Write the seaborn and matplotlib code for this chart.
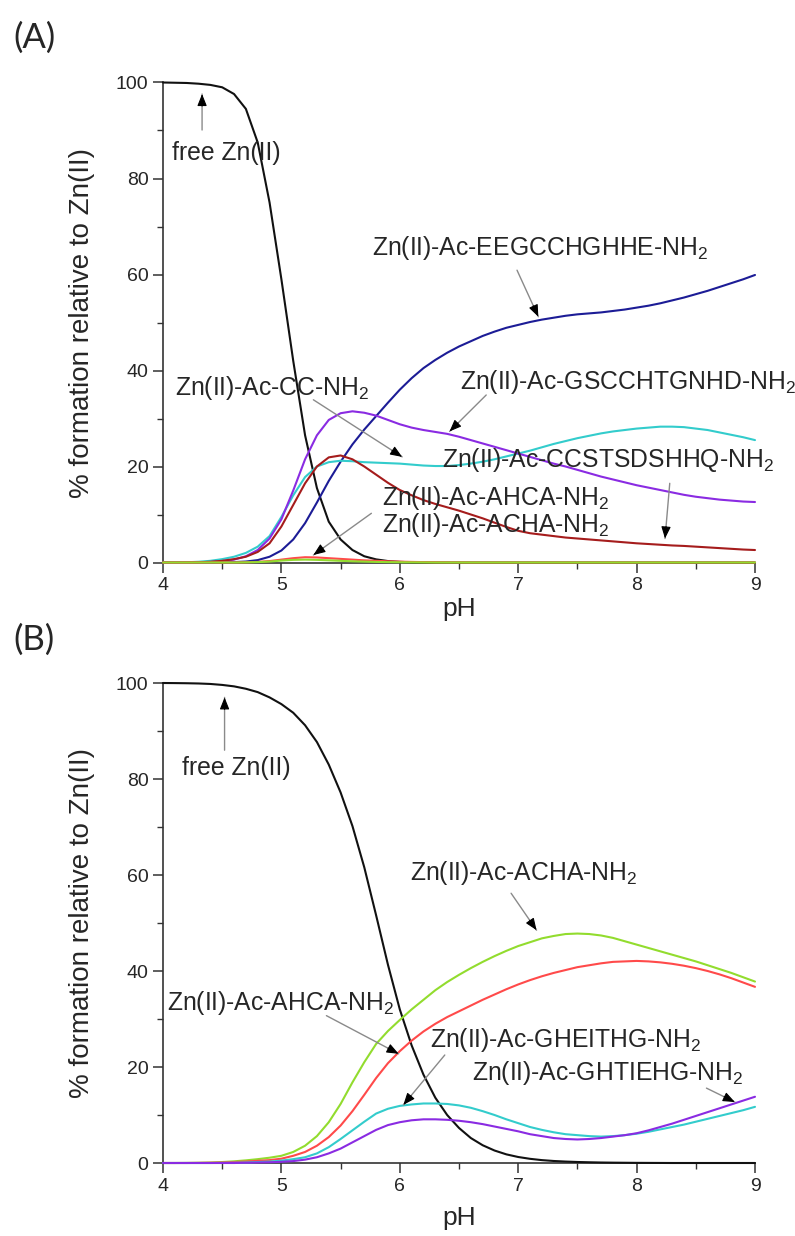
import numpy as np
import pandas as pd
import matplotlib
matplotlib.use("Agg")
import matplotlib.pyplot as plt
import seaborn as sns

# ---------------- data ----------------
pH = [4.0, 4.1, 4.2, 4.3, 4.4, 4.5, 4.6, 4.7, 4.8, 4.9,
      5.0, 5.1, 5.2, 5.3, 5.4, 5.5, 5.6, 5.7, 5.8, 5.9,
      6.0, 6.1, 6.2, 6.3, 6.4, 6.5, 6.6, 6.7, 6.8, 6.9,
      7.0, 7.1, 7.2, 7.3, 7.4, 7.5, 7.6, 7.7, 7.8, 7.9,
      8.0, 8.1, 8.2, 8.3, 8.4, 8.5, 8.6, 8.7, 8.8, 8.9,
      9.0]

# Panel A
a_free = [100, 99.95, 99.9, 99.75, 99.5, 99.0, 97.6, 94.5, 87.5, 75,
          59, 42, 26.5, 15.5, 8.5, 4.8, 2.6, 1.3, 0.65, 0.3,
          0.13, 0.05, 0.02, 0, 0, 0, 0, 0, 0, 0,
          0, 0, 0, 0, 0, 0, 0, 0, 0, 0,
          0, 0, 0, 0, 0, 0, 0, 0, 0, 0,
          0]
a_eeg = [0, 0, 0, 0, 0.01, 0.03, 0.08, 0.2, 0.5, 1.2,
         2.5, 4.8, 8.2, 12.5, 17, 21, 24.6, 27.7, 30.5, 33.3,
         36, 38.4, 40.5, 42.2, 43.7, 45.0, 46.1, 47.2, 48.1, 48.9,
         49.5, 50.1, 50.6, 51.0, 51.4, 51.7, 51.9, 52.1, 52.4, 52.7,
         53.1, 53.5, 54.0, 54.6, 55.2, 55.9, 56.6, 57.4, 58.2, 59.0,
         59.9]
a_cc = [0, 0.02, 0.05, 0.15, 0.35, 0.7, 1.2, 2.0, 3.3, 5.5,
        9.5, 14, 17.8, 20.0, 20.9, 21.2, 21.1, 20.9, 20.8, 20.7,
        20.6, 20.4, 20.2, 20.1, 20.1, 20.3, 20.6, 21.0, 21.5, 22.1,
        22.7, 23.3, 24.0, 24.7, 25.3, 25.9, 26.4, 26.9, 27.3, 27.6,
        27.9, 28.1, 28.3, 28.3, 28.2, 27.9, 27.6, 27.1, 26.6, 26.1,
        25.5]
a_gscc = [0, 0, 0.02, 0.05, 0.1, 0.3, 0.6, 1.3, 2.6, 5,
          9, 15, 21.5, 26.5, 29.7, 31.1, 31.5, 31.2, 30.6, 29.7,
          28.8, 28.1, 27.6, 27.2, 26.8, 26.2, 25.5, 24.8, 24.1, 23.4,
          22.7, 22.0, 21.3, 20.6, 20.0, 19.3, 18.6, 17.9, 17.3, 16.7,
          16.1, 15.6, 15.1, 14.6, 14.1, 13.7, 13.4, 13.1, 12.9, 12.7,
          12.6]
a_ccst = [0, 0, 0.02, 0.05, 0.15, 0.35, 0.7, 1.2, 2.2, 4.0,
          7.5, 12, 16.5, 20.0, 21.9, 22.3, 21.5, 20.0, 18.3, 16.6,
          15.1, 14.0, 13.0, 12.2, 11.5, 10.8, 10.0, 9.2, 8.3, 7.4,
          6.6, 6.1, 5.8, 5.5, 5.2, 5.0, 4.8, 4.6, 4.4, 4.2,
          4.0, 3.85, 3.7, 3.55, 3.45, 3.3, 3.15, 3.0, 2.85, 2.7,
          2.6]
a_ahca = [0, 0, 0, 0, 0, 0, 0.02, 0.05, 0.12, 0.3,
          0.6, 0.9, 1.1, 1.05, 0.9, 0.75, 0.6, 0.45, 0.35, 0.25,
          0.18, 0.12, 0.08, 0.05, 0.03, 0.02, 0, 0, 0, 0,
          0, 0, 0, 0, 0, 0, 0, 0, 0, 0,
          0, 0, 0, 0, 0, 0, 0, 0, 0, 0,
          0]
a_acha = [0, 0, 0, 0, 0, 0, 0, 0.03, 0.08, 0.2,
          0.4, 0.55, 0.6, 0.55, 0.45, 0.35, 0.25, 0.18, 0.12, 0.08,
          0.05, 0.03, 0.02, 0, 0, 0, 0, 0, 0, 0,
          0, 0, 0, 0, 0, 0, 0, 0, 0, 0,
          0, 0, 0, 0, 0, 0, 0, 0, 0, 0,
          0]

# Panel B
b_free = [100, 99.98, 99.95, 99.9, 99.8, 99.6, 99.3, 98.8, 98.1, 97.0,
          95.6, 93.8, 91.2, 87.7, 83.0, 77.2, 70.2, 61.6, 51.6, 41.3,
          32.0, 24.5, 18.4, 13.6, 10.0, 7.3, 5.2, 3.7, 2.6, 1.8,
          1.25, 0.87, 0.6, 0.42, 0.3, 0.21, 0.15, 0.1, 0.07, 0.05,
          0.03, 0.02, 0.01, 0, 0, 0, 0, 0, 0, 0,
          0]
b_acha = [0, 0, 0.02, 0.05, 0.1, 0.2, 0.35, 0.55, 0.8, 1.1,
          1.5, 2.3, 3.6, 5.6, 8.5, 12.3, 16.8, 21.0, 24.8, 27.5,
          29.8, 32.0, 34.0, 36.0, 37.7, 39.2, 40.6, 41.9, 43.1, 44.2,
          45.2, 46.0, 46.8, 47.3, 47.7, 47.8, 47.7, 47.4, 46.9, 46.2,
          45.5, 44.8, 44.1, 43.4, 42.7, 42.0, 41.2, 40.4, 39.6, 38.7,
          37.8]
b_ahca = [0, 0, 0, 0.02, 0.05, 0.1, 0.2, 0.3, 0.45, 0.6,
          0.9, 1.5, 2.3, 3.6, 5.4, 7.8, 10.8, 14.2, 17.7, 20.8,
          23.3, 25.5, 27.4, 29.0, 30.4, 31.6, 32.8, 34.0, 35.1, 36.2,
          37.2, 38.1, 38.9, 39.6, 40.2, 40.8, 41.2, 41.6, 41.9, 42.0,
          42.1, 42.0, 41.8, 41.5, 41.1, 40.6, 40.0, 39.3, 38.5, 37.6,
          36.7]
b_gheithg = [0, 0, 0, 0, 0, 0.02, 0.05, 0.1, 0.2, 0.3,
             0.5, 0.8, 1.2, 2.0, 3.3, 5.0, 6.8, 8.6, 10.3, 11.3,
             11.9, 12.2, 12.4, 12.4, 12.3, 12.0, 11.5, 10.8, 10.0, 9.1,
             8.3, 7.5, 6.9, 6.4, 6.0, 5.8, 5.6, 5.5, 5.6, 5.8,
             6.1, 6.5, 7.0, 7.5, 8.0, 8.6, 9.2, 9.8, 10.4, 11.0,
             11.7]
b_ghtiehg = [0, 0, 0, 0, 0, 0, 0, 0.05, 0.1, 0.15,
             0.25, 0.4, 0.7, 1.2, 2.0, 3.0, 4.3, 5.6, 6.9, 7.9,
             8.5, 8.9, 9.1, 9.1, 9.0, 8.8, 8.5, 8.1, 7.6, 7.1,
             6.6, 6.0, 5.6, 5.2, 5.0, 4.9, 5.0, 5.2, 5.5, 5.8,
             6.2, 6.8, 7.5, 8.2, 9.0, 9.8, 10.6, 11.4, 12.2, 13.0,
             13.8]

x_ticks = [4, 5, 6, 7, 8, 9]
y_ticks = [0, 20, 40, 60, 80, 100]
ylabel_text = "% formation relative to Zn(II)"
xlabel_text = "pH"

# ---------------- style ----------------
sns.set_style("ticks")
plt.rcParams["font.family"] = ["Liberation Sans", "DejaVu Sans"]
plt.rcParams["mathtext.fontset"] = "custom"
plt.rcParams["mathtext.rm"] = "Liberation Sans"
plt.rcParams["mathtext.it"] = "Liberation Sans:italic"
plt.rcParams["mathtext.default"] = "regular"

C_BLACK = "#111111"
C_BLUE = "#1c1c96"
C_CYAN = "#33cccc"
C_PURPLE = "#8a2be2"
C_DRED = "#a51c1c"
C_RED = "#ff4a4a"
C_GREEN = "#92dc2e"
ANN_FS = 17.8

fig = plt.figure(figsize=(7.95, 12.36), dpi=100)
W, H = 795.0, 1236.0
axA = fig.add_axes([163 / W, 1 - 562.5 / H, 592 / W, 480 / H])
axB = fig.add_axes([163 / W, 1 - 1163 / H, 592 / W, 480 / H])


def draw_series(ax, series):
    for vals, col in series:
        df = pd.DataFrame({"pH": pH, "v": vals})
        sns.lineplot(data=df, x="pH", y="v", color=col, lw=1.5, ax=ax,
                     zorder=3, clip_on=False)


draw_series(axA, [(a_free, C_BLACK), (a_eeg, C_BLUE), (a_cc, C_CYAN),
                  (a_gscc, C_PURPLE), (a_ccst, C_DRED), (a_ahca, C_RED),
                  (a_acha, C_GREEN)])
draw_series(axB, [(b_free, C_BLACK), (b_acha, C_GREEN), (b_ahca, C_RED),
                  (b_gheithg, C_CYAN), (b_ghtiehg, C_PURPLE)])

for ax in (axA, axB):
    ax.set_xlim(4, 9)
    ax.set_ylim(0, 100)
    ax.set_xticks(x_ticks)
    ax.set_yticks(y_ticks)
    ax.set_xticks([4.5, 5.5, 6.5, 7.5, 8.5], minor=True)
    ax.set_yticks([10, 30, 50, 70, 90], minor=True)
    ax.tick_params(which="major", direction="out", length=7, width=1.1,
                   labelsize=14, pad=3.5, color="#333333")
    ax.tick_params(which="minor", direction="out", length=4, width=1.0,
                   color="#333333")
    for s in ("top", "right"):
        ax.spines[s].set_visible(False)
    for s in ("left", "bottom"):
        ax.spines[s].set_linewidth(1.2)
        ax.spines[s].set_color("#333333")
    ax.set_ylabel(ylabel_text, fontsize=20)
    ax.set_xlabel(xlabel_text, fontsize=19)
    ax.yaxis.set_label_coords(-0.115, 0.5)
    ax.set_facecolor("white")

axA.xaxis.set_label_coords(0.5, -0.072)
axB.xaxis.set_label_coords(0.5, -0.09)

fig.text(13 / W, 1 - 38 / H, "(A)", fontsize=25, family=["Lato", "DejaVu Sans"],
         ha="left", va="center")
fig.text(13 / W, 1 - 640 / H, "(B)", fontsize=25, family=["Lato", "DejaVu Sans"],
         ha="left", va="center")

fig.canvas.draw()


def arrow(ax, tail, head):
    ax.annotate("", xy=head, xytext=tail,
                arrowprops=dict(arrowstyle="-", color="#8a8a8a", lw=1.0,
                                shrinkA=0, shrinkB=0), zorder=5)
    p_h = ax.transData.transform(head)
    p_t = ax.transData.transform(tail)
    d = p_t - p_h
    d = d / np.hypot(*d)
    off = d * 12 * 72 / fig.dpi
    ax.annotate("", xy=head, xytext=(off[0], off[1]), textcoords="offset points",
                arrowprops=dict(arrowstyle="-|>,head_length=0.6,head_width=0.24",
                                color="black", lw=0.8, shrinkA=0, shrinkB=0,
                                mutation_scale=12), zorder=6)


def label(ax, x, y, s):
    ax.text(x, y, s, fontsize=ANN_FS, ha="left", va="center", zorder=7)


# Panel A annotations
label(axA, 4.076, 85.3, "free Zn(II)")
arrow(axA, (4.33, 90.1), (4.33, 97.6))
label(axA, 5.763, 65.5, "Zn(II)-Ac-EEGCCHGHHE-NH$_2$")
arrow(axA, (6.99, 60.9), (7.17, 51.2))
label(axA, 6.51, 37.7, "Zn(II)-Ac-GSCCHTGNHD-NH$_2$")
arrow(axA, (6.73, 34.9), (6.42, 27.3))
label(axA, 4.10, 36.3, "Zn(II)-Ac-CC-NH$_2$")
arrow(axA, (5.27, 33.9), (6.02, 22.0))
label(axA, 6.354, 21.4, "Zn(II)-Ac-CCSTSDSHHQ-NH$_2$")
arrow(axA, (8.28, 16.5), (8.24, 5.0))
label(axA, 5.85, 13.4, "Zn(II)-Ac-AHCA-NH$_2$")
label(axA, 5.85, 7.8, "Zn(II)-Ac-ACHA-NH$_2$")
arrow(axA, (5.76, 10.25), (5.27, 1.56))

# Panel B annotations
label(axB, 4.158, 82.2, "free Zn(II)")
arrow(axB, (4.52, 86.0), (4.52, 97.0))
label(axB, 6.09, 60.4, "Zn(II)-Ac-ACHA-NH$_2$")
arrow(axB, (6.94, 56.2), (7.155, 48.5))
label(axB, 4.03, 33.3, "Zn(II)-Ac-AHCA-NH$_2$")
arrow(axB, (5.38, 30.7), (5.99, 22.75))
label(axB, 6.255, 25.6, "Zn(II)-Ac-GHEITHG-NH$_2$")
arrow(axB, (6.38, 22.5), (6.03, 12.1))
label(axB, 6.61, 18.7, "Zn(II)-Ac-GHTIEHG-NH$_2$")
arrow(axB, (8.59, 15.6), (8.83, 12.7))

fig.savefig("out.png", dpi=100, facecolor="white")
